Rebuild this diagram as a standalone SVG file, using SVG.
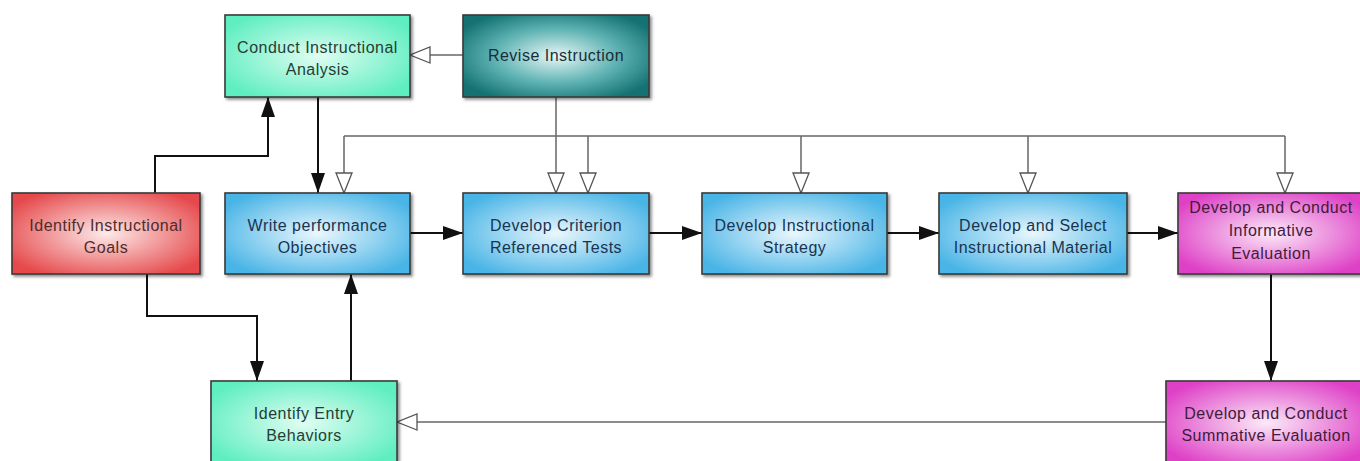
<svg xmlns="http://www.w3.org/2000/svg" width="1360" height="461" viewBox="0 0 1360 461">
  <defs>
    <radialGradient id="g-mint" cx="0.5" cy="0.5" r="0.6">
      <stop offset="0" stop-color="#e0fdf2"/>
      <stop offset="1" stop-color="#5eeec0"/>
    </radialGradient>
    <radialGradient id="g-teal" cx="0.5" cy="0.5" r="0.6">
      <stop offset="0" stop-color="#e8f6f6"/>
      <stop offset="0.55" stop-color="#5fb3b3"/>
      <stop offset="1" stop-color="#147272"/>
    </radialGradient>
    <radialGradient id="g-red" cx="0.5" cy="0.5" r="0.6">
      <stop offset="0" stop-color="#fdeaea"/>
      <stop offset="1" stop-color="#e64a4c"/>
    </radialGradient>
    <radialGradient id="g-blue" cx="0.5" cy="0.5" r="0.6">
      <stop offset="0" stop-color="#eaf7fd"/>
      <stop offset="1" stop-color="#48b4e6"/>
    </radialGradient>
    <radialGradient id="g-pink" cx="0.5" cy="0.5" r="0.6">
      <stop offset="0" stop-color="#fbeaf8"/>
      <stop offset="1" stop-color="#de3fc6"/>
    </radialGradient>
    <filter id="shadow" x="-5%" y="-5%" width="115%" height="120%">
      <feDropShadow dx="2" dy="2" stdDeviation="1.4" flood-color="#000" flood-opacity="0.45"/>
    </filter>
    <marker id="head-solid" markerUnits="userSpaceOnUse" markerWidth="22" markerHeight="16" refX="20" refY="7" orient="auto">
      <path d="M0,0 L20,7 L0,14 Z" fill="#111"/>
    </marker>
    <marker id="head-open" markerUnits="userSpaceOnUse" markerWidth="24" markerHeight="20" refX="21" refY="9" orient="auto">
      <path d="M1,1 L21,9 L1,17 Z" fill="#fff" stroke="#555" stroke-width="1.3"/>
    </marker>
  </defs>
  <style>
    .box { stroke: #3a3a3a; stroke-width: 1.6; filter: url(#shadow); }
    .lbl { font-family: "Liberation Sans", Arial, sans-serif; font-size: 16px; letter-spacing: 0.5px; text-anchor: middle; }
    .t-mint { fill: #233f35; }
    .t-teal { fill: #162f38; }
    .t-red { fill: #4e2c2c; }
    .t-blue { fill: #183452; }
    .t-pink { fill: #421a3c; }
    .solid { fill: none; stroke: #111; stroke-width: 2; marker-end: url(#head-solid); }
    .open { fill: none; stroke: #666; stroke-width: 1.5; marker-end: url(#head-open); }
    .wire { fill: none; stroke: #666; stroke-width: 1.5; }
  </style>

  <rect width="1360" height="461" fill="#fff"/>

  <!-- connectors -->
  <g id="connectors">
    <!-- main flow -->
    <path class="solid" d="M318,97 V193"/>
    <path class="solid" d="M155,193 V156 H268 V97"/>
    <path class="solid" d="M147,274 V316 H257 V381"/>
    <path class="solid" d="M351,381 V274"/>
    <path class="solid" d="M410,233 H463"/>
    <path class="solid" d="M649,233 H702"/>
    <path class="solid" d="M887,233 H939"/>
    <path class="solid" d="M1127,233 H1178"/>
    <path class="solid" d="M1271,274 V381"/>
    <!-- revision feedback -->
    <path class="open" d="M463,55 H410"/>
    <path class="open" d="M556,97 V193"/>
    <path class="wire" d="M344,136 H1285"/>
    <path class="open" d="M344,136 V193"/>
    <path class="open" d="M588,136 V193"/>
    <path class="open" d="M801,136 V193"/>
    <path class="open" d="M1028,136 V193"/>
    <path class="open" d="M1285,136 V193"/>
    <path class="open" d="M1166,422 H397"/>
  </g>

  <g id="conduct-analysis">
    <rect class="box" x="225" y="15" width="185" height="82" fill="url(#g-mint)"/>
    <text class="lbl t-mint" x="317.5" y="53">Conduct Instructional</text>
    <text class="lbl t-mint" x="317.5" y="75">Analysis</text>
  </g>

  <g id="revise-instruction">
    <rect class="box" x="463" y="15" width="186" height="82" fill="url(#g-teal)"/>
    <text class="lbl t-teal" x="556" y="61">Revise Instruction</text>
  </g>

  <g id="identify-goals">
    <rect class="box" x="12" y="193" width="188" height="81" fill="url(#g-red)"/>
    <text class="lbl t-red" x="106" y="231">Identify Instructional</text>
    <text class="lbl t-red" x="106" y="253">Goals</text>
  </g>

  <g id="write-objectives">
    <rect class="box" x="225" y="193" width="185" height="81" fill="url(#g-blue)"/>
    <text class="lbl t-blue" x="317.5" y="231">Write performance</text>
    <text class="lbl t-blue" x="317.5" y="253">Objectives</text>
  </g>

  <g id="criterion-tests">
    <rect class="box" x="463" y="193" width="186" height="81" fill="url(#g-blue)"/>
    <text class="lbl t-blue" x="556" y="231">Develop Criterion</text>
    <text class="lbl t-blue" x="556" y="253">Referenced Tests</text>
  </g>

  <g id="instructional-strategy">
    <rect class="box" x="702" y="193" width="185" height="81" fill="url(#g-blue)"/>
    <text class="lbl t-blue" x="794.5" y="231">Develop Instructional</text>
    <text class="lbl t-blue" x="794.5" y="253">Strategy</text>
  </g>

  <g id="instructional-material">
    <rect class="box" x="939" y="193" width="188" height="81" fill="url(#g-blue)"/>
    <text class="lbl t-blue" x="1033" y="231">Develop and Select</text>
    <text class="lbl t-blue" x="1033" y="253">Instructional Material</text>
  </g>

  <g id="informative-evaluation">
    <rect class="box" x="1178" y="193" width="188" height="81" fill="url(#g-pink)"/>
    <text class="lbl t-pink" x="1271" y="213">Develop and Conduct</text>
    <text class="lbl t-pink" x="1271" y="236">Informative</text>
    <text class="lbl t-pink" x="1271" y="259">Evaluation</text>
  </g>

  <g id="entry-behaviors">
    <rect class="box" x="211" y="381" width="186" height="84" fill="url(#g-mint)"/>
    <text class="lbl t-mint" x="304" y="419">Identify Entry</text>
    <text class="lbl t-mint" x="304" y="441">Behaviors</text>
  </g>

  <g id="summative-evaluation">
    <rect class="box" x="1166" y="381" width="200" height="84" fill="url(#g-pink)"/>
    <text class="lbl t-pink" x="1266" y="419">Develop and Conduct</text>
    <text class="lbl t-pink" x="1266" y="441">Summative Evaluation</text>
  </g>
</svg>
